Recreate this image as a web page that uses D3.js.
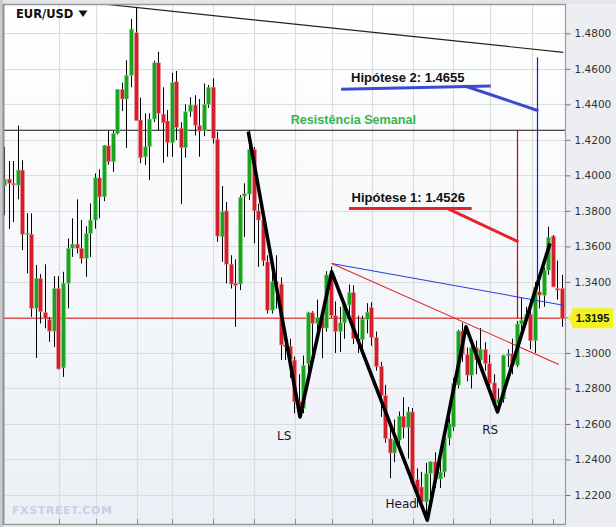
<!DOCTYPE html>
<html><head><meta charset="utf-8">
<script src="https://cdn.jsdelivr.net/npm/d3@7"></script>
<style>body{margin:0;background:#eceef2;} svg{display:block}</style>
</head><body>
<svg id="c" width="616" height="527"></svg>
<script>
// ---- Weekly EUR/USD candles (index 0 = week of 11 Oct 2010) ----
const opens = [1.3941,1.3979,1.3955,1.3945,1.4030,1.3668,1.3668,1.3251,1.3420,1.3228,
1.3189,1.3123,1.3363,1.2916,1.3392,1.3589,1.3613,1.3589,1.3532,1.3673,
1.3748,1.3986,1.3879,1.4167,1.4077,1.4237,1.4484,1.4430,1.4563,1.4803,
1.4312,1.4105,1.4161,1.4317,1.4634,1.4345,1.4306,1.4184,1.4527,1.4265,
1.4156,1.4358,1.4396,1.4280,1.4251,1.4400,1.4496,1.4203,1.3654,1.3800,
1.3500,1.3392,1.3388,1.3883,1.3895,1.4146,1.3800,1.3748,1.3513,1.3241,
1.3401,1.3388,1.3045,1.3038,1.2960,1.2725,1.2687,1.2941,1.3226,1.3166,
1.3200,1.3140,1.3440,1.3210,1.3120,1.3170,1.3270,1.3340,1.3080,1.3075,
1.3190,1.3255,1.3087,1.2925,1.2760,1.2518,1.2437,1.2509,1.2644,1.2580,
1.2668,1.2287,1.2245,1.2161,1.2321,1.2387,1.2290,1.2330,1.2520,1.2583,
1.2818,1.3123,1.2991,1.2875,1.3030,1.2960,1.3020,1.2940,1.2831,1.2716,
1.2740,1.2987,1.2995,1.2931,1.3163,1.3185,1.3218,1.3069,1.3344,1.3325,
1.3467,1.3658,1.3363,1.3363];
const highs = [1.4161,1.4081,1.4081,1.4280,1.4085,1.3786,1.3786,1.3495,1.3444,1.3499,
1.3203,1.3432,1.3432,1.3457,1.3645,1.3758,1.3865,1.3748,1.3714,1.3842,
1.4011,1.4034,1.4171,1.4250,1.4250,1.4486,1.4522,1.4648,1.4881,1.4946,
1.4437,1.4349,1.4349,1.4646,1.4696,1.4496,1.4368,1.4578,1.4588,1.4299,
1.4400,1.4440,1.4451,1.4430,1.4517,1.4509,1.4546,1.4245,1.3940,1.3850,
1.3550,1.3527,1.3889,1.3955,1.4255,1.4160,1.3840,1.3790,1.3550,1.3504,
1.3550,1.3425,1.3091,1.3080,1.2980,1.2880,1.2985,1.3232,1.3235,1.3300,
1.3230,1.3460,1.3486,1.3290,1.3260,1.3290,1.3385,1.3380,1.3210,1.3210,
1.3280,1.3285,1.3120,1.2950,1.2820,1.2590,1.2625,1.2670,1.2750,1.2696,
1.2690,1.2350,1.2330,1.2380,1.2390,1.2440,1.2400,1.2530,1.2640,1.2860,
1.3130,1.3170,1.3030,1.3040,1.3070,1.3140,1.3060,1.2990,1.2880,1.2800,
1.2990,1.3020,1.3080,1.3180,1.3310,1.3260,1.3300,1.3400,1.3400,1.3480,
1.3711,1.3665,1.3520,1.3440];
const lows = [1.3776,1.3698,1.3737,1.3865,1.3579,1.3448,1.3203,1.2972,1.3166,1.3138,
1.3063,1.3034,1.2907,1.2865,1.3251,1.3541,1.3561,1.3504,1.3429,1.3541,
1.3700,1.3758,1.3855,1.4060,1.4020,1.4230,1.4362,1.4155,1.4496,1.4308,
1.4068,1.4058,1.3973,1.4300,1.4255,1.4071,1.4105,1.4105,1.4199,1.3838,
1.4100,1.4330,1.4225,1.4105,1.4220,1.4380,1.4180,1.3626,1.3513,1.3392,
1.3363,1.3147,1.3354,1.3654,1.3861,1.3617,1.3485,1.3490,1.3222,1.3222,
1.3250,1.2960,1.2960,1.2860,1.2660,1.2640,1.2660,1.2900,1.2980,1.3090,
1.2970,1.3120,1.3200,1.3000,1.3005,1.3080,1.3180,1.3050,1.3000,1.3000,
1.3110,1.3040,1.2900,1.2640,1.2495,1.2295,1.2385,1.2450,1.2520,1.2405,
1.2250,1.2130,1.2150,1.2058,1.2135,1.2240,1.2240,1.2300,1.2480,1.2560,
1.2800,1.2950,1.2840,1.2800,1.2880,1.2920,1.2900,1.2800,1.2700,1.2662,
1.2720,1.2920,1.2880,1.2920,1.3120,1.3160,1.3020,1.3000,1.3250,1.3260,
1.3440,1.3370,1.3300,1.3147];
const closes = [1.3979,1.3955,1.3948,1.4030,1.3668,1.3675,1.3251,1.3420,1.3232,1.3194,
1.3123,1.3363,1.2910,1.3392,1.3589,1.3613,1.3589,1.3532,1.3673,1.3748,
1.3986,1.3879,1.4167,1.4077,1.4237,1.4484,1.4430,1.4563,1.4824,1.4308,
1.4099,1.4161,1.4317,1.4634,1.4349,1.4296,1.4184,1.4522,1.4270,1.4156,
1.4358,1.4396,1.4282,1.4250,1.4400,1.4496,1.4208,1.3658,1.3795,1.3500,
1.3388,1.3380,1.3876,1.3897,1.4146,1.3800,1.3748,1.3519,1.3241,1.3401,
1.3388,1.3045,1.3035,1.2963,1.2725,1.2687,1.2930,1.3226,1.3166,1.3200,
1.3140,1.3440,1.3210,1.3120,1.3170,1.3270,1.3340,1.3080,1.3075,1.3190,
1.3230,1.3087,1.2922,1.2760,1.2518,1.2437,1.2509,1.2644,1.2580,1.2668,
1.2265,1.2212,1.2161,1.2321,1.2387,1.2290,1.2330,1.2520,1.2600,1.2828,
1.3123,1.2991,1.2875,1.3030,1.2960,1.3020,1.2940,1.2828,1.2716,1.2740,
1.2987,1.2995,1.2935,1.3163,1.3185,1.3218,1.3069,1.3370,1.3325,1.3467,
1.3651,1.3372,1.3354,1.3195];

// axis ticks
const yTicks = [1.22,1.24,1.26,1.28,1.30,1.32,1.34,1.36,1.38,1.40,1.42,1.44,1.46,1.48];
const gridIdx = [12.05,20.2,29.25,37.1,46.15,55.15,64.1,72.25,81.2,90.2,99.05,107.2,116.3];
const extraTickIdx = [121.0];

// annotation levels (data units: week index, price)
const lastPrice = 1.3195;
const resistance = 1.4254;
const topTrendIdx = [29, 123.3], topTrendPx = [1.4946, 1.4693];
const zigIdx = [53.85, 65.25, 72.23, 93.3, 101.84, 108.78, 120.35];
const zigPx  = [1.4246, 1.2640, 1.3457, 1.2058, 1.3147, 1.2668, 1.3617];
const blueTrendIdx = [72.23, 123.3], blueTrendPx = [1.3504, 1.3269];
const redTrendIdx  = [72.23, 122.3], redTrendPx  = [1.3504, 1.2935];
const target2 = 1.4655, target1 = 1.4526;

const svg = d3.select('#c');
const W = 616, H = 527, L = 3, R = 565, T = 5, B = 524;
const x = d3.scaleLinear().domain([0, 123]).range([4, 562]);
const y = d3.scaleLinear().domain([1.22, 1.48]).range([495, 33.3]);

const defs = svg.append('defs');
const g = defs.append('linearGradient').attr('id','bg').attr('x1',0).attr('y1',0).attr('x2',0).attr('y2',1);
g.append('stop').attr('offset','0%').attr('stop-color','#ffffff');
g.append('stop').attr('offset','100%').attr('stop-color','#ebf0f6');
defs.append('clipPath').attr('id','clip').append('rect').attr('x',L).attr('y',T-1).attr('width',R-L).attr('height',B-T+1);

svg.append('rect').attr('width',W).attr('height',H).attr('fill','#eceef2');
svg.append('rect').attr('x',L).attr('y',T).attr('width',R-L).attr('height',B-T).attr('fill','url(#bg)');

const plot = svg.append('g').attr('clip-path','url(#clip)');
const crisp = v => Math.round(v) + 0.5;

// grid
plot.selectAll('.hg').data(yTicks).join('line')
  .attr('x1',L).attr('x2',R).attr('y1',d=>crisp(y(d))).attr('y2',d=>crisp(y(d)))
  .attr('stroke','#dcdcdc').attr('stroke-width',1.2);
plot.selectAll('.vg').data(gridIdx).join('line')
  .attr('y1',T).attr('y2',B).attr('x1',d=>crisp(x(d))).attr('x2',d=>crisp(x(d)))
  .attr('stroke','#dcdcdc').attr('stroke-width',1.2);

// horizontal levels
plot.append('line').attr('x1',L).attr('x2',R).attr('y1',y(resistance)).attr('y2',y(resistance))
  .attr('stroke','#111').attr('stroke-width',1.1);
plot.append('line').attr('x1',L).attr('x2',R).attr('y1',y(lastPrice)).attr('y2',y(lastPrice))
  .attr('stroke','#d41a1a').attr('stroke-width',1.1);

// candles
const candles = opens.map((o,i)=>({i,o,h:highs[i],l:lows[i],c:closes[i]}));
const cg = plot.append('g');
cg.selectAll('line.w').data(candles).join('line')
  .attr('x1',d=>crisp(x(d.i))).attr('x2',d=>crisp(x(d.i)))
  .attr('y1',d=>y(d.h)).attr('y2',d=>y(d.l)).attr('stroke','#000').attr('stroke-width',1);
cg.selectAll('rect.b').data(candles).join('rect')
  .attr('x',d=>Math.round(x(d.i))-1.5).attr('width',4)
  .attr('y',d=>y(Math.max(d.o,d.c)))
  .attr('height',d=>Math.max(1.5, Math.abs(y(d.o)-y(d.c))))
  .attr('fill',d=>d.c>=d.o ? '#17a51e' : '#d31f2b')
  .attr('stroke',d=>d.c>=d.o ? '#8fd48f' : '#ec9a9f').attr('stroke-width',0.5);

// top trendline (extended to left edge, clipped)
const slope = (topTrendPx[1]-topTrendPx[0])/(topTrendIdx[1]-topTrendIdx[0]);
const leftIdx = x.invert(L);
plot.append('line')
  .attr('x1',x(leftIdx)).attr('y1',y(topTrendPx[0]+slope*(leftIdx-topTrendIdx[0])))
  .attr('x2',x(topTrendIdx[1])).attr('y2',y(topTrendPx[1]))
  .attr('stroke','#222').attr('stroke-width',1.2);

// thin blue / red neckline trendlines
plot.append('line').attr('x1',x(blueTrendIdx[0])).attr('y1',y(blueTrendPx[0]))
  .attr('x2',x(blueTrendIdx[1])).attr('y2',y(blueTrendPx[1])).attr('stroke','#2b3ddb').attr('stroke-width',1.1);
plot.append('line').attr('x1',x(redTrendIdx[0])).attr('y1',y(redTrendPx[0]))
  .attr('x2',x(redTrendIdx[1])).attr('y2',y(redTrendPx[1])).attr('stroke','#e02424').attr('stroke-width',1.1);

// measured-move verticals
plot.append('line').attr('x1',crisp(x(113.15))).attr('x2',crisp(x(113.15)))
  .attr('y1',y(resistance)).attr('y2',y(lastPrice)).attr('stroke','#d00000').attr('stroke-width',1.2);
plot.append('line').attr('x1',crisp(x(117.4))).attr('x2',crisp(x(117.4)))
  .attr('y1',y(target2+0.001)).attr('y2',y(1.338)).attr('stroke','#0a1cff').attr('stroke-width',1.2);

// zigzag head & shoulders
const zig = zigIdx.map((v,k)=>[x(v), y(zigPx[k])]);
plot.append('path').attr('d', d3.line()(zig)).attr('fill','none')
  .attr('stroke','#000').attr('stroke-width',3.6).attr('stroke-linejoin','round');

// hypothesis underline strokes
const hyp = [
  {p:[[74.3,1.44845],[107.3,1.4503]], c:'#3b4bd1'},
  {p:[[101.6,1.4503],[117.8,1.4364]], c:'#3b4bd1'},
  {p:[[76.05,1.3814],[103.1,1.3814]], c:'#e8222b'},
  {p:[[97.6,1.3816],[113.4,1.3626]], c:'#e8222b'}
];
plot.selectAll('path.h').data(hyp).join('path')
  .attr('d', d=>d3.line()(d.p.map(q=>[x(q[0]),y(q[1])])))
  .attr('stroke', d=>d.c).attr('stroke-width',3).attr('fill','none').attr('stroke-linecap','butt');

// texts
const txt = (s, xi, py, opt) => plot.append('text').attr('x',x(xi)).attr('y',y(py)).text(s)
  .attr('font-family',opt.f).attr('font-size',opt.s).attr('font-weight',opt.w||'normal').attr('fill',opt.c);
txt('Hipótese 2: '+target2.toFixed(4), 76.5, 1.4527, {f:'Liberation Sans, Arial, sans-serif', s:13, w:'bold', c:'#111'});
txt('Hipótese 1: '+target1.toFixed(4), 76.6, 1.3851, {f:'Liberation Sans, Arial, sans-serif', s:13, w:'bold', c:'#111'});
txt('Resistência Semanal', 63.2, 1.4289, {f:'Liberation Sans, Arial, sans-serif', s:12.6, w:'bold', c:'#36b64c'});
txt('LS', 60.2, 1.2509, {f:'DejaVu Sans, sans-serif', s:12, c:'#141428'});
txt('Head', 84.1, 1.2124, {f:'DejaVu Sans, sans-serif', s:12, c:'#141428'});
txt('RS', 105.4, 1.2541, {f:'DejaVu Sans, sans-serif', s:12, c:'#141428'});

// watermark
svg.append('text').attr('x',12).attr('y',514).text('FXSTREET.COM')
  .attr('font-family','DejaVu Sans, sans-serif').attr('font-size',11).attr('font-weight','bold')
  .attr('fill','#c8cfe6').attr('letter-spacing',0.6);

// header
svg.append('text').attr('x',16).attr('y',18.3).text('EUR/USD')
  .attr('font-family','DejaVu Sans, Verdana, sans-serif').attr('font-size',11.5).attr('font-weight','bold').attr('fill','#111');
svg.append('path').attr('d','M78.5,10.5 L87.5,10.5 L83,17 Z').attr('fill','#111');

// frame
svg.append('rect').attr('x',0).attr('y',0).attr('width',W).attr('height',4).attr('fill','#e4e5ea');
svg.append('line').attr('x1',L).attr('x2',R).attr('y1',4.5).attr('y2',4.5).attr('stroke','#9a9a9a').attr('stroke-width',1.5);
svg.append('rect').attr('x',0).attr('y',0).attr('width',L).attr('height',H).attr('fill','#c9cacf');
svg.append('line').attr('x1',L+0.5).attr('x2',L+0.5).attr('y1',4).attr('y2',B+1).attr('stroke','#8f8f8f').attr('stroke-width',2);
svg.append('line').attr('x1',L).attr('x2',R).attr('y1',B+0.5).attr('y2',B+0.5).attr('stroke','#9a9a9a').attr('stroke-width',1.5);
svg.append('line').attr('x1',R+0.5).attr('x2',R+0.5).attr('y1',4).attr('y2',B+1).attr('stroke','#9a9a9a').attr('stroke-width',1.2);

// bottom ticks
svg.selectAll('line.bt').data(gridIdx.concat(extraTickIdx)).join('line')
  .attr('x1',d=>crisp(x(d))).attr('x2',d=>crisp(x(d))).attr('y1',B-5).attr('y2',B)
  .attr('stroke','#8a8a8a').attr('stroke-width',1);

// y axis (the 1.3200 label sits under the current-price tag, so it is not shown)
const hiddenUnderTag = d => Math.abs(y(d) - y(lastPrice)) < 11;
const ax = svg.append('g').attr('transform',`translate(${R+0.5},0)`)
  .call(d3.axisRight(y).tickValues(yTicks).tickFormat(d => hiddenUnderTag(d) ? '' : d3.format('.4f')(d)).tickSize(5).tickPadding(4));
ax.select('.domain').remove();
ax.selectAll('.tick line').attr('stroke','#777');
ax.selectAll('.tick text').attr('font-family','DejaVu Sans, Tahoma, sans-serif').attr('font-size',10.5).attr('fill','#333');

// current price tag
const py = y(lastPrice);
svg.append('path')
  .attr('d',`M567.5,${py} L572,${py-5} L572,${py-8} Q572,${py-10} 574,${py-10} L611,${py-10} Q613,${py-10} 613,${py-8} L613,${py+8} Q613,${py+10} 611,${py+10} L574,${py+10} Q572,${py+10} 572,${py+8} L572,${py+5} Z`)
  .attr('fill','#f2f21c');
svg.append('text').attr('x',592.5).attr('y',py).attr('dy','0.35em').attr('text-anchor','middle')
  .text(lastPrice.toFixed(4)).attr('font-family','Liberation Sans, Arial, sans-serif')
  .attr('font-size',11).attr('font-weight','bold').attr('fill','#111');
</script>
</body></html>
